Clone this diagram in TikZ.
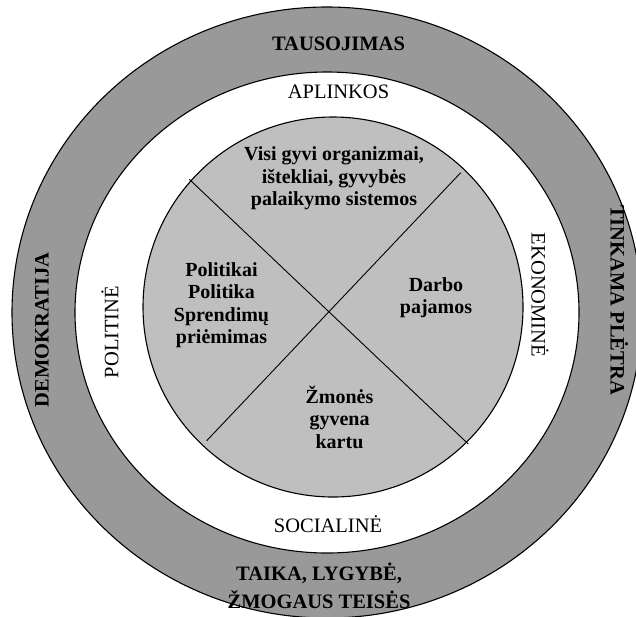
\documentclass[tikz,border=0pt]{standalone}
\usepackage{fontspec}
\setmainfont{Liberation Serif}
\usepackage{tikz}

\definecolor{ringgray}{gray}{0.6}
\definecolor{coregray}{gray}{0.75}

\begin{document}
\begin{tikzpicture}[x=1pt,y=-1pt,
    ringlabel/.style={font=\fontsize{20.5}{28}\selectfont\bfseries,align=center,inner sep=0pt},
    zonelabel/.style={font=\fontsize{20.5}{24}\selectfont,inner sep=0pt},
    corelabel/.style={font=\fontsize{20}{22.5}\selectfont\bfseries,align=center,inner sep=0pt}]
        \useasboundingbox (0,0) rectangle (636,616);
        \clip (0,0) rectangle (636,616);
        \draw[line width=1.1pt,fill=ringgray] (327,312.5) ellipse [x radius=315pt,y radius=305.5pt];
        \draw[line width=1.1pt,fill=white] (327,312.5) ellipse [x radius=252pt,y radius=240.5pt];
        \draw[line width=1.1pt,fill=coregray] (333,307) circle [radius=190pt];
        \coordinate (ul) at (189.3,179.3);
        \coordinate (lr) at (468.3,444);
        \coordinate (ur) at (460.7,172.7);
        \coordinate (ll) at (206.7,440.7);
        \draw[line width=0.9pt] (ul) -- (lr);
        \draw[line width=0.9pt] (ur) -- (ll);
        \node[ringlabel] (tausojimas) at (338.5,43.5) {TAUSOJIMAS};
        \node[ringlabel,rotate=90] (demokratija) at (42,330) {DEMOKRATIJA};
        \node[ringlabel,rotate=-90] (pletra) at (619.5,300) {TINKAMA PLĖTRA};
        \node[ringlabel] (taika) at (319,585.5) {TAIKA, LYGYBĖ,\\ŽMOGAUS TEISĖS};
        \node[zonelabel] (aplinkos) at (338.5,92) {APLINKOS};
        \node[zonelabel,rotate=90] (politine) at (110,332) {POLITINĖ};
        \node[zonelabel,rotate=-90] (ekonomine) at (540,295) {EKONOMINĖ};
        \node[zonelabel] (socialine) at (328,524.5) {SOCIALINĖ};
        \node[corelabel] (gamta) at (334,178.3) {Visi gyvi organizmai,\\ištekliai, gyvybės\\palaikymo sistemos};
        \node[corelabel] (politika) at (221.5,305) {Politikai\\Politika\\Sprendimų\\priėmimas};
        \node[corelabel] (darbas) at (436,297.7) {Darbo\\pajamos};
        \node[corelabel] (zmones) at (339.5,417) {Žmonės\\gyvena\\kartu};
\end{tikzpicture}
\end{document}
